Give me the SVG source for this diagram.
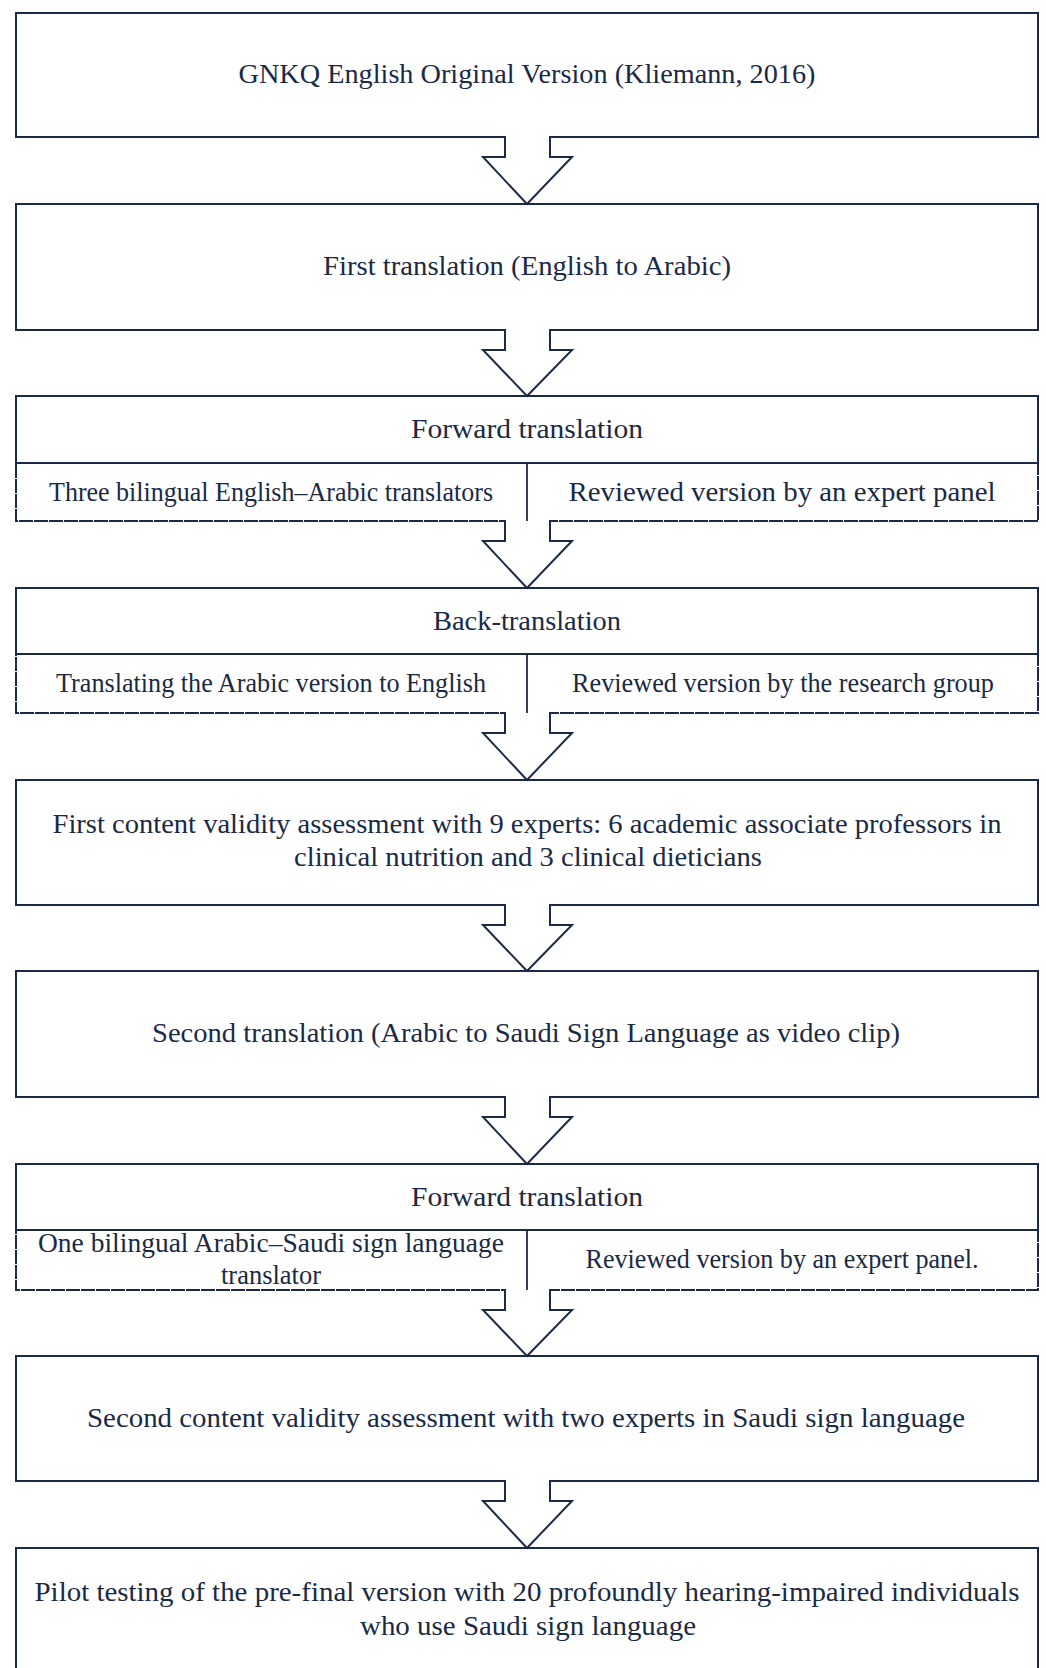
<svg xmlns="http://www.w3.org/2000/svg" width="1046" height="1668" viewBox="0 0 1046 1668">
<style>
.box{fill:#fff;stroke:#1c2b45;stroke-width:2}
.low{fill:none;stroke:#1c2b45;stroke-width:2;stroke-dasharray:14 1}
.div{stroke:#1c2b45;stroke-width:1.8}
.arr{fill:none;stroke:#1c2b45;stroke-width:2;stroke-linejoin:miter}
.gap{fill:#fff}
text{font-family:"Liberation Serif","Times New Roman",serif;font-size:27px;fill:#1a2a44;text-anchor:middle}
</style>
<rect width="1046" height="1668" fill="#fff"/>
<g id="n1"><rect class="box" x="16" y="13" width="1022" height="124"/><text x="527" y="83" textLength="577" lengthAdjust="spacingAndGlyphs">GNKQ English Original Version (Kliemann, 2016)</text></g>
<g id="n2"><rect class="box" x="16" y="204" width="1022" height="126"/><text x="527" y="275" textLength="408" lengthAdjust="spacingAndGlyphs">First translation (English to Arabic)</text></g>
<g id="n3"><rect class="box" x="16" y="396" width="1022" height="67"/><rect class="low" x="16" y="463" width="1022" height="58"/>
<text x="527" y="438" textLength="232" lengthAdjust="spacingAndGlyphs">Forward translation</text>
<text x="271" y="501" textLength="444" lengthAdjust="spacingAndGlyphs">Three bilingual English–Arabic translators</text>
<text x="782" y="501" textLength="427" lengthAdjust="spacingAndGlyphs">Reviewed version by an expert panel</text></g>
<g id="n4"><rect class="box" x="16" y="588" width="1022" height="66"/><rect class="low" x="16" y="654" width="1022" height="59"/>
<text x="527" y="630" textLength="188" lengthAdjust="spacingAndGlyphs">Back-translation</text>
<text x="271" y="692" textLength="430" lengthAdjust="spacingAndGlyphs">Translating the Arabic version to English</text>
<text x="783" y="692" textLength="422" lengthAdjust="spacingAndGlyphs">Reviewed version by the research group</text></g>
<g id="n5"><rect class="box" x="16" y="780" width="1022" height="125"/>
<text x="527" y="833" textLength="949" lengthAdjust="spacingAndGlyphs">First content validity assessment with 9 experts: 6 academic associate professors in</text>
<text x="528" y="866" textLength="468" lengthAdjust="spacingAndGlyphs">clinical nutrition and 3 clinical dieticians</text></g>
<g id="n6"><rect class="box" x="16" y="971" width="1022" height="126"/><text x="526" y="1042" textLength="748" lengthAdjust="spacingAndGlyphs">Second translation (Arabic to Saudi Sign Language as video clip)</text></g>
<g id="n7"><rect class="box" x="16" y="1164" width="1022" height="66"/><rect class="low" x="16" y="1230" width="1022" height="60"/>
<text x="527" y="1206" textLength="232" lengthAdjust="spacingAndGlyphs">Forward translation</text>
<text x="271" y="1252" textLength="466" lengthAdjust="spacingAndGlyphs">One bilingual Arabic–Saudi sign language</text>
<text x="271" y="1284" textLength="100" lengthAdjust="spacingAndGlyphs">translator</text>
<text x="782" y="1268" font-size="25" textLength="393" lengthAdjust="spacingAndGlyphs">Reviewed version by an expert panel.</text></g>
<g id="n8"><rect class="box" x="16" y="1356" width="1022" height="125"/><text x="526" y="1427" textLength="878" lengthAdjust="spacingAndGlyphs">Second content validity assessment with two experts in Saudi sign language</text></g>
<g id="n9"><rect class="box" x="16" y="1548" width="1022" height="140"/>
<text x="527" y="1601" textLength="985" lengthAdjust="spacingAndGlyphs">Pilot testing of the pre-final version with 20 profoundly hearing-impaired individuals</text>
<text x="528" y="1635" textLength="336" lengthAdjust="spacingAndGlyphs">who use Saudi sign language</text></g>
<g id="connectors">
<rect class="gap" x="506" y="136" width="43" height="3"/><path class="arr" d="M505,137 V157 H483 L527,204 L572,157 H550 V137"/>
<rect class="gap" x="506" y="329" width="43" height="3"/><path class="arr" d="M505,330 V350 H483 L527,396 L572,350 H550 V330"/>
<rect class="gap" x="506" y="520" width="43" height="3"/><path class="arr" d="M505,521 V541 H483 L527,588 L572,541 H550 V521"/>
<rect class="gap" x="506" y="712" width="43" height="3"/><path class="arr" d="M505,713 V733 H483 L527,780 L572,733 H550 V713"/>
<rect class="gap" x="506" y="904" width="43" height="3"/><path class="arr" d="M505,905 V925 H483 L527,971 L572,925 H550 V905"/>
<rect class="gap" x="506" y="1096" width="43" height="3"/><path class="arr" d="M505,1097 V1117 H483 L527,1164 L572,1117 H550 V1097"/>
<rect class="gap" x="506" y="1289" width="43" height="3"/><path class="arr" d="M505,1290 V1310 H483 L527,1356 L572,1310 H550 V1290"/>
<rect class="gap" x="506" y="1480" width="43" height="3"/><path class="arr" d="M505,1481 V1501 H483 L527,1548 L572,1501 H550 V1481"/>
<line class="div" x1="527" y1="463" x2="527" y2="521"/>
<line class="div" x1="527" y1="654" x2="527" y2="713"/>
<line class="div" x1="527" y1="1230" x2="527" y2="1290"/>
</g>
</svg>
